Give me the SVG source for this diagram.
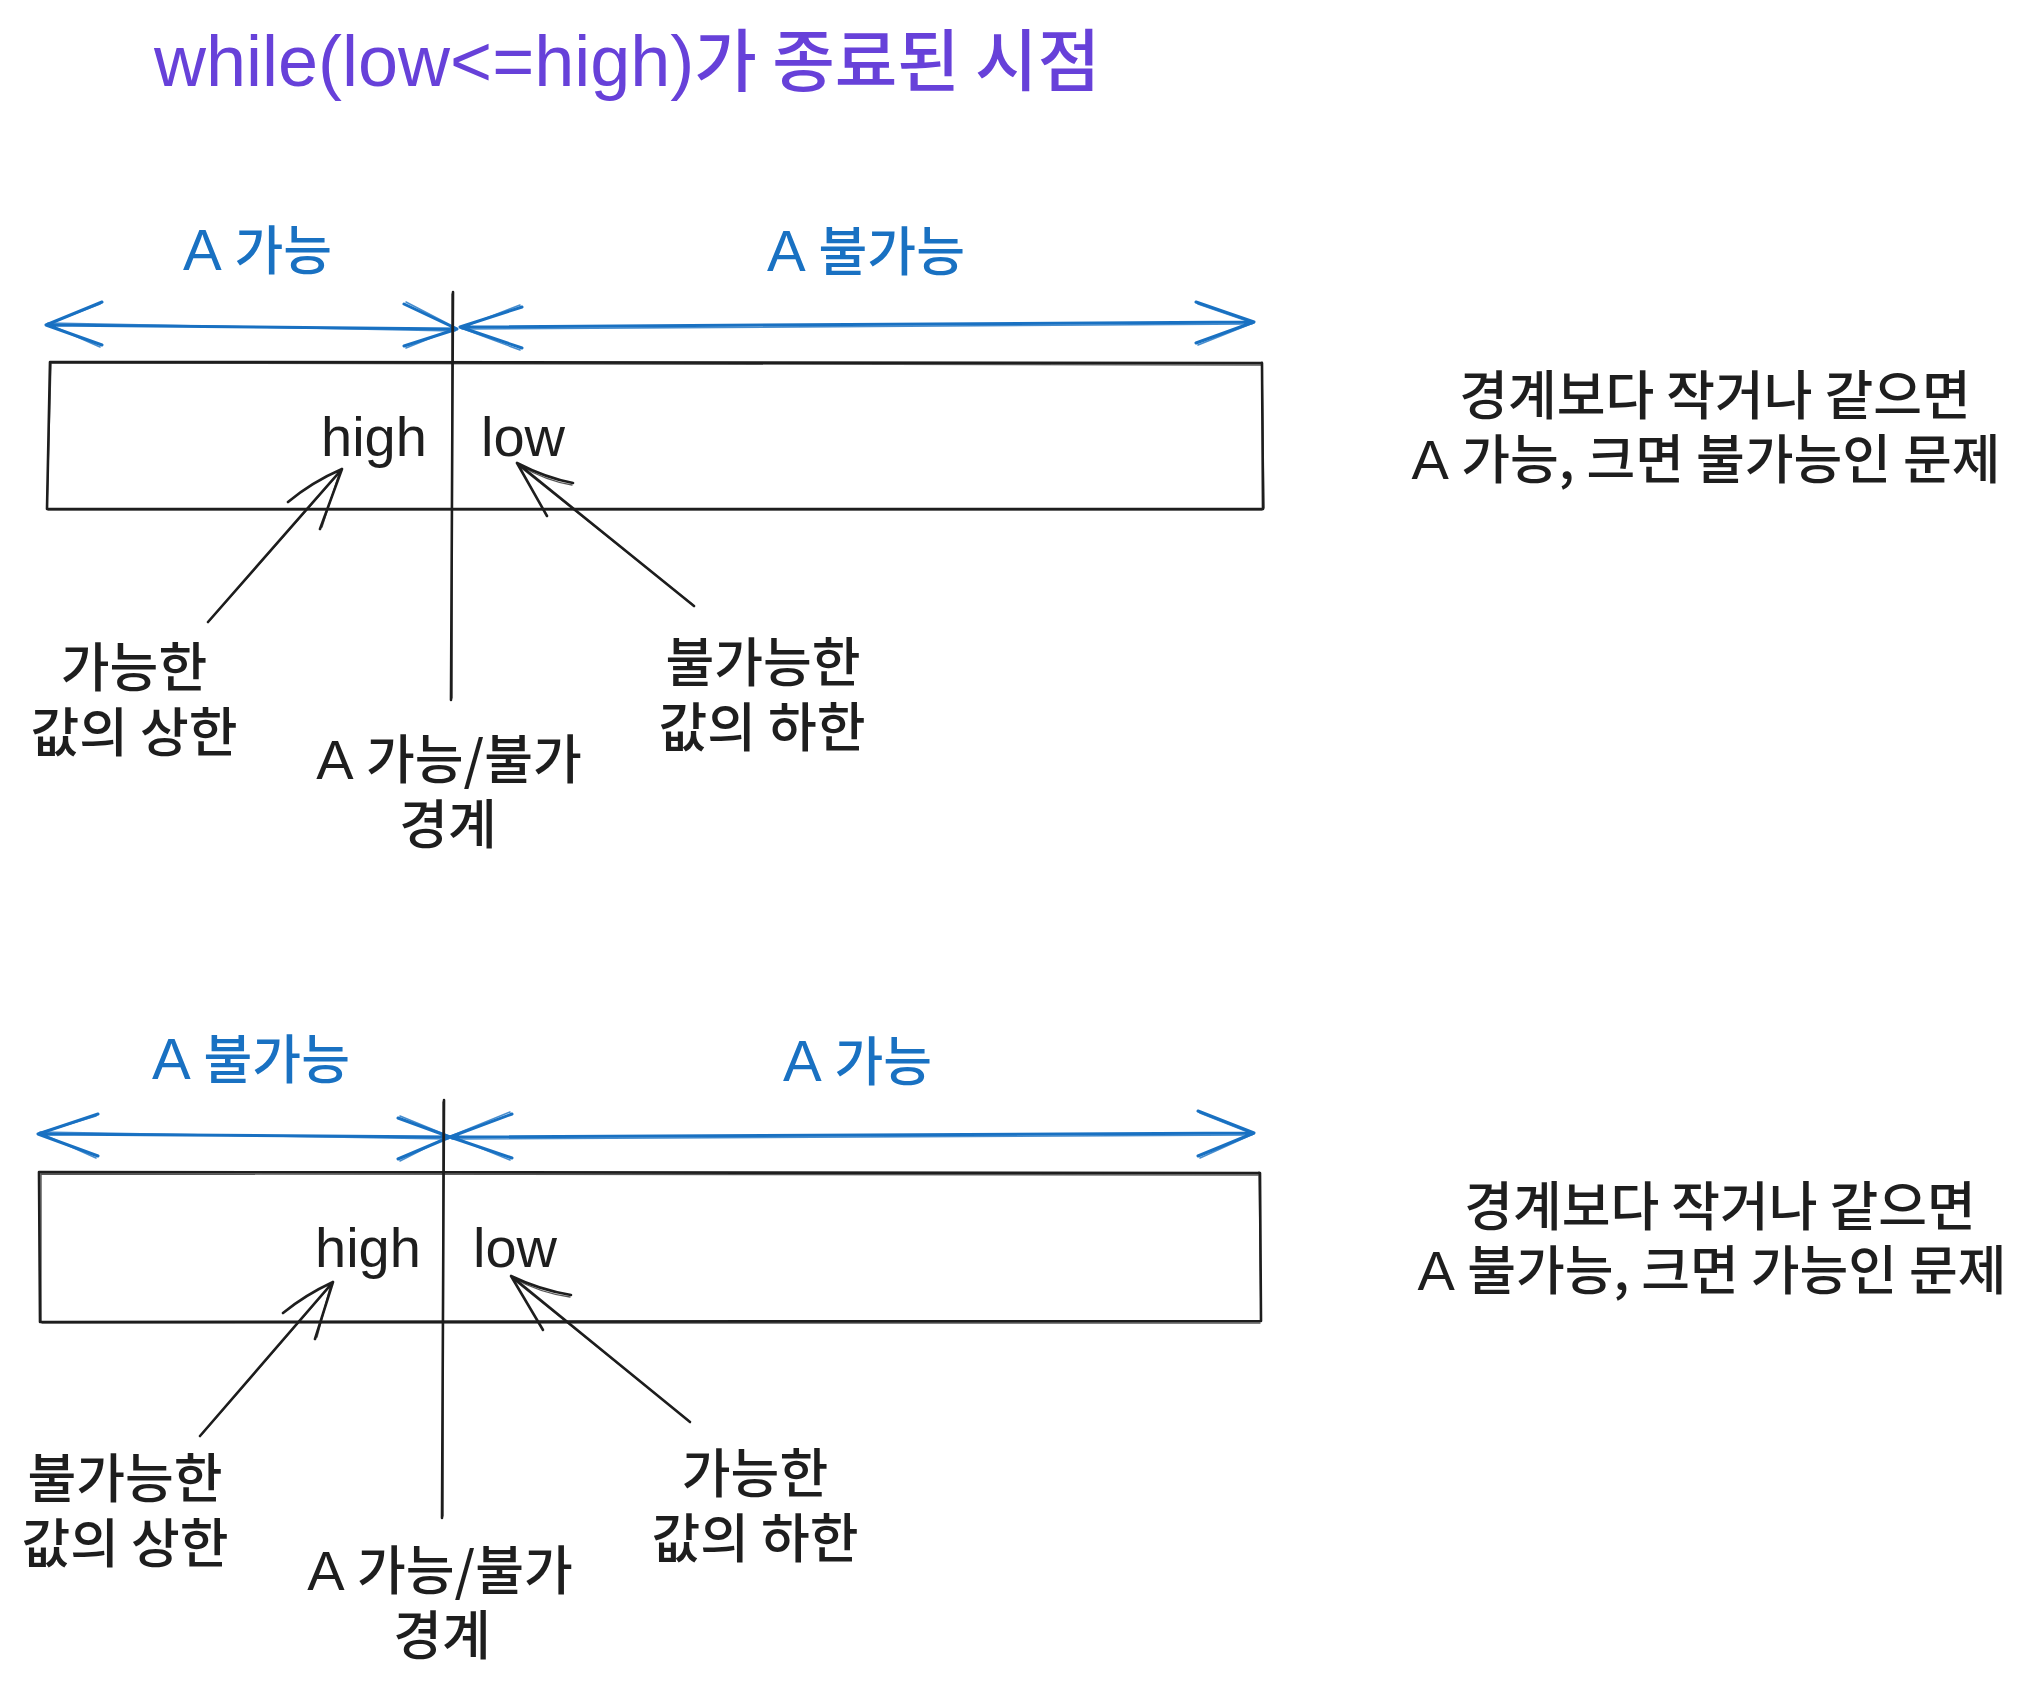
<svg xmlns="http://www.w3.org/2000/svg" width="2031" height="1687" viewBox="0 0 2031 1687">
<defs>
<style>
.bg{fill:#ffffff}
.blk{stroke:#1e1e1e;fill:none;stroke-width:2.6;stroke-linecap:round;stroke-linejoin:round}
.blk2{stroke:#1e1e1e;fill:none;stroke-width:1.4;stroke-linecap:round;opacity:0.75}
.blu{stroke:#1971c2;fill:none;stroke-width:3;stroke-linecap:round;stroke-linejoin:round}
.blu2{stroke:#1971c2;fill:none;stroke-width:1.6;stroke-linecap:round;opacity:0.8}
.t{font-family:"Liberation Sans","Noto Sans CJK KR",sans-serif;font-size:56px;fill:#1e1e1e}
.k{font-family:"Noto Sans CJK KR","Liberation Sans",sans-serif;font-size:53px;font-weight:500}
.title{font-family:"Liberation Sans","Noto Sans CJK KR",sans-serif;font-size:72px;fill:#6741d9}
.tk{font-family:"Noto Sans CJK KR","Liberation Sans",sans-serif;font-size:68px;font-weight:500}
.bt{font-family:"Liberation Sans","Noto Sans CJK KR",sans-serif;font-size:58px;fill:#1971c2}
.bk{font-family:"Noto Sans CJK KR","Liberation Sans",sans-serif;font-size:53px;font-weight:500}
</style>
</defs>
<rect class="bg" x="0" y="0" width="2031" height="1687"/>

<g id="title">
<text class="title" x="154" y="86">while(low&lt;=high)<tspan class="tk">가 종료된 시점</tspan></text>
</g>

<!-- Section 1 -->
<g id="box1">
<path class="blk" d="M50 362 L1262 363 L1263 509 L47 509 Z"/>
<path class="blk2" d="M52 363 L1261 365 M1262 362 L1264 508 M1262 510 L48 510 M47 508 L51 363"/>
</g>
<g id="label-a-possible-1"><text class="bt" x="183" y="270">A <tspan class="bk">가능</tspan></text></g>
<g id="label-a-impossible-1"><text class="bt" x="767" y="271">A <tspan class="bk">불가능</tspan></text></g>
<g id="high-1"><text class="t" x="321" y="456" font-size="57">high</text></g>
<g id="low-1"><text class="t" x="481" y="456" font-size="57">low</text></g>
<g id="upper-bound-1"><text class="t" text-anchor="middle"><tspan class="k" x="134" y="687">가능한</tspan><tspan class="k" x="134" y="752">값의 상한</tspan></text></g>
<g id="boundary-1"><text class="t" text-anchor="middle"><tspan x="449" y="779">A <tspan class="k">가능/불가</tspan></tspan><tspan class="k" x="448" y="844">경계</tspan></text></g>
<g id="lower-bound-1"><text class="t" text-anchor="middle"><tspan class="k" x="763" y="682">불가능한</tspan><tspan class="k" x="762" y="747">값의 하한</tspan></text></g>
<g id="note-1"><text class="t" text-anchor="middle"><tspan class="k" x="1715" y="415">경계보다 작거나 같으면</tspan><tspan x="1706" y="479">A <tspan class="k">가능, 크면 불가능인 문제</tspan></tspan></text></g>

<!-- Section 2 -->
<g id="box2">
<path class="blk" d="M39 1172 L1260 1173 L1261 1321 L40 1322 Z"/>
<path class="blk2" d="M41 1174 L1259 1175 M1259 1172 L1261 1320 M1260 1323 L42 1323 M41 1321 L41 1174"/>
</g>
<g id="label-a-impossible-2"><text class="bt" x="152" y="1079">A <tspan class="bk">불가능</tspan></text></g>
<g id="label-a-possible-2"><text class="bt" x="783" y="1081">A <tspan class="bk">가능</tspan></text></g>
<g id="high-2"><text class="t" x="315" y="1267" font-size="57">high</text></g>
<g id="low-2"><text class="t" x="473" y="1267" font-size="57">low</text></g>
<g id="upper-bound-2"><text class="t" text-anchor="middle"><tspan class="k" x="125" y="1498">불가능한</tspan><tspan class="k" x="125" y="1563">값의 상한</tspan></text></g>
<g id="boundary-2"><text class="t" text-anchor="middle"><tspan x="440" y="1590">A <tspan class="k">가능/불가</tspan></tspan><tspan class="k" x="442" y="1655">경계</tspan></text></g>
<g id="lower-bound-2"><text class="t" text-anchor="middle"><tspan class="k" x="755" y="1493">가능한</tspan><tspan class="k" x="755" y="1558">값의 하한</tspan></text></g>
<g id="note-2"><text class="t" text-anchor="middle"><tspan class="k" x="1720" y="1226">경계보다 작거나 같으면</tspan><tspan x="1712" y="1290">A <tspan class="k">불가능, 크면 가능인 문제</tspan></tspan></text></g>

<g id="connectors">
<!-- section 1 blue double arrows -->
<path class="blu" d="M46 325 L457 329 M102 302 L46 325 L102 345 M404 304 L457 329 L404 346"/>
<path class="blu2" d="M48 323 L455 331 M100 304 L48 324 L100 347 M406 302 L456 328 L406 348"/>
<path class="blu" d="M460 327 L1254 322 M522 307 L460 327 L522 348 M1196 302 L1254 322 L1196 343"/>
<path class="blu2" d="M462 329 L1252 324 M520 305 L461 328 L520 350 M1198 304 L1253 323 L1198 345"/>
<!-- section 1 boundary line -->
<path class="blk" d="M453 292 L451 700"/>
<path class="blk2" d="M452 294 L452 698"/>
<!-- section 1 high arrow -->
<path class="blk" d="M208 622 L342 469 M342 469 Q312 482 288 502 M342 469 L320 529"/>
<path class="blk2" d="M210 620 L341 471 M340 471 L322 527"/>
<!-- section 1 low arrow -->
<path class="blk" d="M694 606 L517 463 M517 463 Q546 478 573 483 M517 463 L547 516"/>
<path class="blk2" d="M692 604 L519 466 M519 465 Q546 481 572 485"/>

<!-- section 2 blue double arrows -->
<path class="blu" d="M38 1134 L450 1137 M98 1114 L38 1134 L98 1156 M398 1118 L450 1137 L398 1159"/>
<path class="blu2" d="M40 1132 L448 1139 M96 1116 L40 1133 L96 1158 M400 1116 L449 1136 L400 1161"/>
<path class="blu" d="M450 1137 L1254 1133 M512 1114 L450 1137 L512 1158 M1198 1111 L1254 1133 L1198 1156"/>
<path class="blu2" d="M452 1139 L1252 1135 M510 1112 L451 1136 L510 1160 M1200 1113 L1253 1134 L1200 1158"/>
<!-- section 2 boundary line -->
<path class="blk" d="M444 1100 L442 1518"/>
<path class="blk2" d="M443 1102 L443 1516"/>
<!-- section 2 high arrow -->
<path class="blk" d="M200 1436 L333 1282 M333 1282 Q305 1295 283 1313 M333 1282 L315 1339"/>
<path class="blk2" d="M202 1434 L332 1284 M331 1284 L317 1337"/>
<!-- section 2 low arrow -->
<path class="blk" d="M690 1422 L511 1276 M511 1276 Q540 1290 571 1295 M511 1276 L543 1330"/>
<path class="blk2" d="M688 1420 L513 1279 M513 1278 Q540 1293 570 1297"/>
</g>
</svg>
